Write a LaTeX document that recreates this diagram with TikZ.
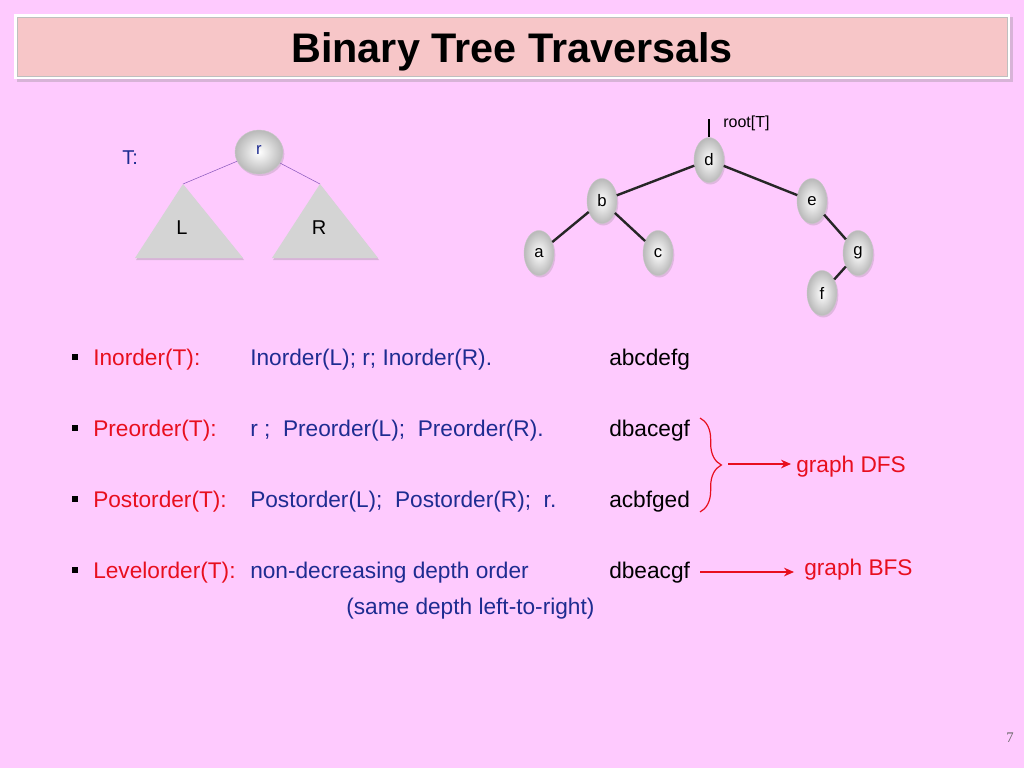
\documentclass[tikz,border=0pt]{standalone}
\usepackage{fontspec}
\setmainfont{Liberation Sans}
\newfontfamily\serifnum{Liberation Serif}
\usetikzlibrary{shapes.geometric,decorations.pathreplacing,arrows.meta,shadows}
\definecolor{bg}{RGB}{254,202,254}
\definecolor{titlefill}{RGB}{247,198,200}
\definecolor{myred}{RGB}{232,14,30}
\definecolor{myblue}{RGB}{30,44,145}
\definecolor{trigray}{RGB}{212,212,212}
\definecolor{thinpurple}{RGB}{140,90,190}
\tikzset{
  ball/.style={ellipse, minimum width=22.5pt, minimum height=33.75pt, inner sep=0pt,
    shading=radial, inner color=white, outer color=gray!55, draw=gray!45, line width=0.3pt,
    drop shadow={opacity=0.25,shadow xshift=1pt,shadow yshift=-1.5pt},
    font=\fontsize{12.5}{14}\selectfont},
  body/.style={anchor=base west, inner sep=0pt, font=\fontsize{17}{20}\selectfont},
  redt/.style={body, text=myred},
  bluet/.style={body, text=myblue},
  blackt/.style={body, text=black},
  bulletsq/.style={fill=black, minimum size=5.2pt, inner sep=0pt},
  treeedge/.style={line width=1.8pt, black!85},
  redarrow/.style={myred, line width=0.9pt, -{Stealth[length=7.5pt,width=6.5pt]}},
}
\begin{document}
\begin{tikzpicture}[x=0.75pt,y=-0.75pt]
\useasboundingbox (0,0) rectangle (1024,768);
\fill[bg] (0,0) rectangle (1024,768);

% title
\path[fill=white, drop shadow={opacity=0.3,shadow xshift=2pt,shadow yshift=-2pt}] (14,14) rectangle (1010,79);
\fill[titlefill] (17,17) rectangle (1007,76);
\draw[gray!50, line width=0.4pt] (17,17) rectangle (1007,76);
\node[anchor=base, inner sep=0pt, font=\fontsize{31}{34}\selectfont\bfseries] (title) at (512,62) {Binary Tree Traversals};

% left tree
\node[anchor=base west, inner sep=0pt, text=myblue, font=\fontsize{15}{18}\selectfont] (Tlab) at (122,164) {T:};
\coordinate (Lapex) at (183,184);
\coordinate (Rapex) at (320,184);
\path[fill=trigray, drop shadow={opacity=0.3,shadow xshift=0.8pt,shadow yshift=-1.5pt}] (Lapex) -- (243,258) -- (135,258) -- cycle;
\path[fill=trigray, drop shadow={opacity=0.3,shadow xshift=0.8pt,shadow yshift=-1.5pt}] (Rapex) -- (378,258) -- (272,258) -- cycle;
\node[font=\fontsize{15}{18}\selectfont] (L) at (182,228) {L};
\node[font=\fontsize{15}{18}\selectfont] (R) at (319,228) {R};
\node[ball, minimum width=36pt, minimum height=33pt, text=myblue] (r) at (259,152) {\raisebox{3pt}{r}};
\draw[thinpurple, line width=0.4pt] (r) -- (Lapex);
\draw[thinpurple, line width=0.4pt] (r) -- (Rapex);

% right tree
\node[ball] (d) at (709,160) {d};
\node[ball] (b) at (602,201) {b};
\node[ball] (e) at (812,201) {e};
\node[ball] (a) at (539,253) {a};
\node[ball] (c) at (658,253) {c};
\node[ball] (g) at (858,253) {g};
\node[ball] (f) at (822,293) {f};
\coordinate (rootTop) at (709,119);
\draw[line width=1.6pt] (rootTop) -- (d.north);
\node[anchor=base west, inner sep=0pt, font=\fontsize{12}{14}\selectfont] (rootlab) at (723,127) {root[T]};
\draw[treeedge] (d) -- (b);
\draw[treeedge] (d) -- (e);
\draw[treeedge] (b) -- (a);
\draw[treeedge] (b) -- (c);
\draw[treeedge] (e) -- (g);
\draw[treeedge] (g) -- (f);

% bullets rows
\node[bulletsq] (b1) at (75,357) {};
\node[bulletsq] (b2) at (75,428) {};
\node[bulletsq] (b3) at (75,499) {};
\node[bulletsq] (b4) at (75,570) {};

\node[redt] (in) at (93,365) {Inorder(T):};
\node[redt] (pre) at (93,436) {Preorder(T):};
\node[redt] (post) at (93,507) {Postorder(T):};
\node[redt] (lev) at (93,578) {Levelorder(T):};

\node[bluet] (ind) at (250,365) {Inorder(L); r; Inorder(R).};
\node[bluet] (pred) at (250,436) {r ;\ \ Preorder(L);\ \ Preorder(R).};
\node[bluet] (postd) at (250,507) {Postorder(L);\ \ Postorder(R);\ \ r.};
\node[bluet] (levd) at (250,578) {non-decreasing depth order};
\node[bluet] (levd2) at (346,614) {(same depth left-to-right)};

\node[blackt] (inr) at (609,365) {abcdefg};
\node[blackt] (prer) at (609,436) {dbacegf};
\node[blackt] (postr) at (609,507) {acbfged};
\node[blackt] (levr) at (609,578) {dbeacgf};

% brace and arrows
\coordinate (brTop) at (700,418);
\coordinate (brBot) at (700,512);
\draw[myred, line width=0.9pt, decorate, decoration={brace, amplitude=16pt, aspect=0.5}] (brTop) -- (brBot);
\coordinate (brTip) at (728,464);
\node[redt] (dfs) at (796,472) {graph DFS};
\draw[redarrow] (brTip) -- (791,464);
\node[redt] (bfs) at (804,575) {graph BFS};
\coordinate (bfsStart) at (700,572);
\draw[redarrow] (bfsStart) -- (794,572);

% page number
\node[anchor=base, inner sep=0pt, text=gray!80!black, font=\serifnum\fontsize{11}{13}\selectfont] (pg) at (1010,742) {7};
\end{tikzpicture}
\end{document}
